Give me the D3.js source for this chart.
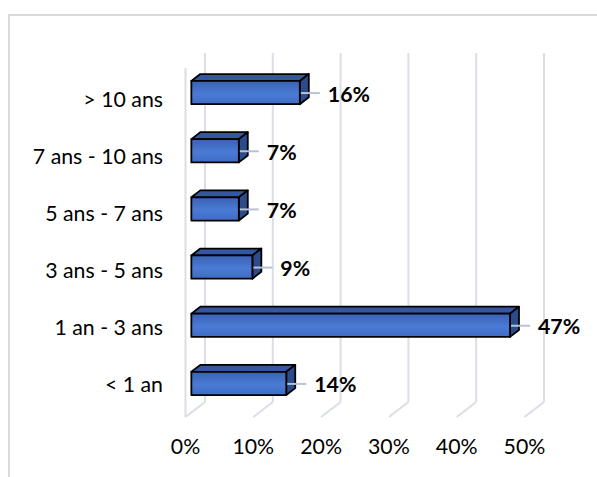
<!DOCTYPE html>
<html>
<head>
<meta charset="utf-8">
<script src="https://cdn.jsdelivr.net/npm/d3@7"></script>
<style>
  html, body { margin: 0; padding: 0; background: #fff; }
  svg { display: block; }
  text { font-family: Lato, "Open Sans", sans-serif; fill: #000; }
</style>
</head>
<body>
<svg id="chart" width="597" height="477"></svg>
<script>
// Durée (catégories, du haut vers le bas) et parts correspondantes
const categories = ["> 10 ans", "7 ans - 10 ans", "5 ans - 7 ans", "3 ans - 5 ans", "1 an - 3 ans", "< 1 an"];
const values = [0.16, 0.07, 0.07, 0.09, 0.47, 0.14];
const valueLabels = ["16%", "7%", "7%", "9%", "47%", "14%"];
const tickValues = [0, 0.1, 0.2, 0.3, 0.4, 0.5];
const tickLabels = ["0%", "10%", "20%", "30%", "40%", "50%"];

const svg = d3.select("#chart");
const FONT = 21.3;

// Projection oblique : profondeur z dans [0,1] -> décalage (dx, dy)
const DEPTH_X = 19.5, DEPTH_Y = -15;
const proj = (x, y, z) => [x + DEPTH_X * z, y + DEPTH_Y * z];

const x = d3.scaleLinear().domain([0, 0.5]).range([185.5, 524.5]);
const y = d3.scaleBand().domain(categories).range([68, 417]).paddingInner(0.6).paddingOuter(0.3);
const yLabel = d3.scaleBand().domain(categories).range([70.5, 413.5]);

const gridColor = "#dadee6";

// Cadre de la zone de graphique
svg.append("path")
  .attr("d", "M9,478 L9,15 L598,15")
  .attr("fill", "none").attr("stroke", "#d9d9d9").attr("stroke-width", 2);

// Quadrillage : mur du fond + sol
const grid = svg.append("g").attr("fill", "none").attr("stroke", gridColor).attr("stroke-width", 2);
tickValues.forEach(t => {
  const [bx, byTop] = proj(x(t), 68, 1);
  const [, byBot] = proj(x(t), 417, 1);
  grid.append("line").attr("x1", bx).attr("x2", bx).attr("y1", byTop).attr("y2", byBot);
  grid.append("line").attr("x1", x(t)).attr("y1", 417).attr("x2", bx).attr("y2", byBot);
});
// Arête avant du mur gauche
grid.append("line").attr("x1", x(0)).attr("x2", x(0)).attr("y1", 68).attr("y2", 417);

// Barres 3D
const defs = svg.append("defs");
const grad = defs.append("linearGradient").attr("id", "front").attr("x1", 0).attr("y1", 0).attr("x2", 0).attr("y2", 1);
grad.append("stop").attr("offset", "0%").attr("stop-color", "#3961b3");
grad.append("stop").attr("offset", "55%").attr("stop-color", "#4a7bd5");
grad.append("stop").attr("offset", "100%").attr("stop-color", "#3f6cc3");

const Z0 = 0.3, Z1 = 0.76;
const bars = svg.append("g");
categories.forEach((c, i) => {
  const v = values[i];
  const [fx0, fyT] = proj(x(0), y(c), Z0);
  const [fx1, fyB] = proj(x(v), y(c) + y.bandwidth(), Z0);
  const [bx0, byT] = proj(x(0), y(c), Z1);
  const [bx1, byB] = proj(x(v), y(c) + y.bandwidth(), Z1);
  const g = bars.append("g").attr("stroke", "#000").attr("stroke-width", 1.8).attr("stroke-linejoin", "round");
  // face supérieure
  g.append("path").attr("fill", "#35579f")
    .attr("d", `M${fx0},${fyT} L${bx0},${byT} L${bx1},${byT} L${fx1},${fyT} Z`);
  // face latérale droite
  g.append("path").attr("fill", "#2c4b8a")
    .attr("d", `M${fx1},${fyT} L${bx1},${byT} L${bx1},${byB} L${fx1},${fyB} Z`);
  // face avant
  g.append("rect").attr("fill", "url(#front)")
    .attr("x", fx0).attr("y", fyT).attr("width", fx1 - fx0).attr("height", fyB - fyT);

  // Ligne de rappel et étiquette de valeur
  const cy = (fyT + fyB) / 2 + 0.5;
  svg.append("line").attr("x1", fx1 + 1).attr("x2", fx1 + 20).attr("y1", cy).attr("y2", cy)
    .attr("stroke", "#b7c3d3").attr("stroke-width", 2);
  svg.append("text").attr("x", fx1 + 28).attr("y", cy + 1).attr("dy", "0.35em")
    .attr("font-weight", 700).attr("font-size", FONT).text(valueLabels[i]);
});

// Étiquettes de catégories
svg.append("g").selectAll("text").data(categories).join("text")
  .attr("x", 163).attr("y", d => yLabel(d) + yLabel.bandwidth() / 2).attr("dy", "0.35em")
  .attr("text-anchor", "end").attr("font-size", FONT).text(d => d);

// Étiquettes de l'axe des valeurs
svg.append("g").selectAll("text").data(tickValues).join("text")
  .attr("x", d => x(d)).attr("y", 447).attr("dy", "0.35em")
  .attr("text-anchor", "middle").attr("font-size", FONT).text((d, i) => tickLabels[i]);
</script>
</body>
</html>
